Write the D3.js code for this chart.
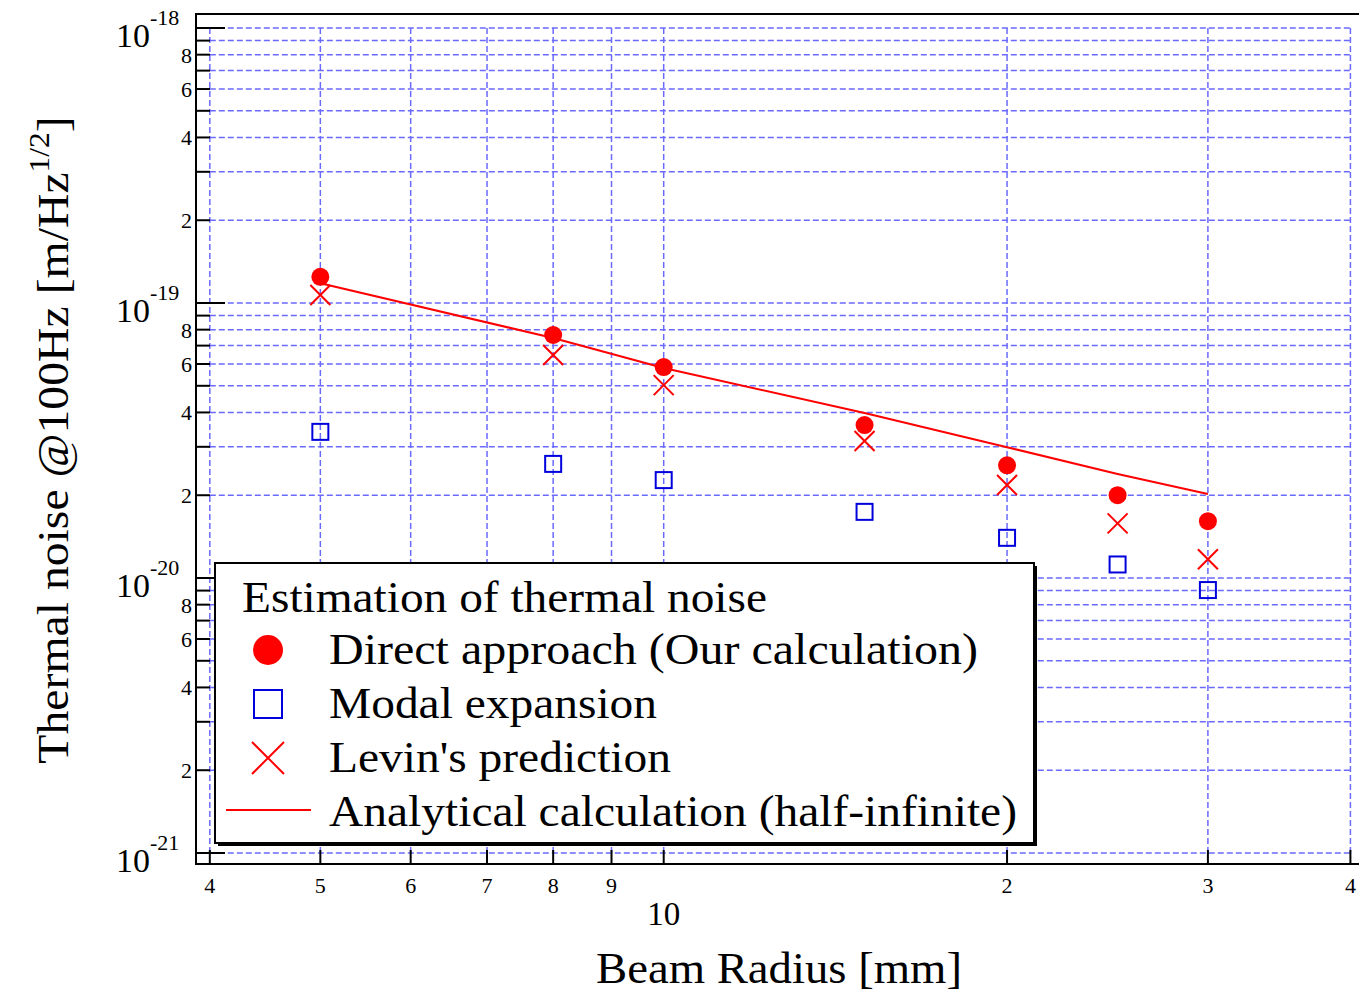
<!DOCTYPE html>
<html>
<head>
<meta charset="utf-8">
<script src="https://cdn.jsdelivr.net/npm/d3@7"></script>
<style>
  body { margin: 0; background: #fff; }
  text { font-family: "Liberation Serif", "DejaVu Serif", serif; fill: #000; }
</style>
</head>
<body>
<script>
// beam radius in mm
const radius = [5, 8, 10, 15, 20, 25, 30]
const direct = [1.245e-19, 7.65e-20, 5.85e-20, 3.6e-20, 2.57e-20, 2.0e-20, 1.61e-20]
const modal = [3.4e-20, 2.6e-20, 2.27e-20, 1.74e-20, 1.40e-20, 1.12e-20, 9.04e-21]
const levin = [1.07e-19, 6.47e-20, 5.03e-20, 3.15e-20, 2.18e-20, 1.58e-20, 1.17e-20]
const analytical = [1.18e-19, 7.46e-20, 5.8e-20, 3.98e-20, 2.99e-20, 2.39e-20, 2.02e-20]

const xTicks = [4, 5, 6, 7, 8, 9, 10, 20, 30, 40]
const xTickLabels = ["4", "5", "6", "7", "8", "9", "10", "2", "3", "4"]
const yMajor = [-21, -20, -19, -18]
const yMinorLabels = ["2", "4", "6", "8"]

const legendTitle = "Estimation of thermal noise"
const legendNames = ["Direct approach (Our calculation)", "Modal expansion", "Levin's prediction", "Analytical calculation (half-infinite)"]
const legendWidths = [649, 328, 342, 688]

let width = 1359
let height = 994

const svg = d3.select("body")
  .append("svg")
  .attr("width", width)
  .attr("height", height)

let x = d3.scaleLog()
  .domain([3.89, 40.7])
  .range([196, 1359])

let y = d3.scaleLog()
  .domain([10 ** -21.04, 10 ** -17.949])
  .range([864, 14])

// y tick values: every integer multiple in each decade
let yTicks = []
for (let e = -21; e < -18; e++) {
  for (let m = 1; m < 10; m++) yTicks.push(m * 10 ** e)
}
yTicks.push(1e-18)

const gridColor = "#6a6aff"

// grid
const grid = svg.append("g")
grid.selectAll(".hg")
  .data(yTicks)
  .join("line")
  .attr("x1", x(4)).attr("x2", x(40))
  .attr("y1", d => y(d)).attr("y2", d => y(d))
  .attr("stroke", gridColor)
  .attr("stroke-width", 1.5)
  .attr("stroke-dasharray", "6,3")
grid.selectAll(".vg")
  .data(xTicks)
  .join("line")
  .attr("x1", d => x(d)).attr("x2", d => x(d))
  .attr("y1", y(1e-18)).attr("y2", y(1e-21))
  .attr("stroke", gridColor)
  .attr("stroke-width", 1.5)
  .attr("stroke-dasharray", "6,3")

// frame
svg.append("path")
  .attr("d", `M${width},14H196V864H${width}`)
  .attr("fill", "none")
  .attr("stroke", "#000")
  .attr("stroke-width", 2)

// y ticks
svg.selectAll(".yt")
  .data(yTicks)
  .join("line")
  .attr("x1", 196)
  .attr("x2", d => Math.abs(Math.log10(d) - Math.round(Math.log10(d))) < 1e-6 ? 225 : 210)
  .attr("y1", d => y(d)).attr("y2", d => y(d))
  .attr("stroke", "#000")
  .attr("stroke-width", 2)

// y minor labels
yMajor.slice(0, 3).forEach(e => {
  yMinorLabels.forEach(l => {
    svg.append("text")
      .attr("x", 192)
      .attr("y", y(+l * 10 ** e) + 8)
      .attr("text-anchor", "end")
      .attr("font-size", 22)
      .text(l)
  })
})

// y major labels
yMajor.forEach(e => {
  svg.append("text")
    .attr("x", 150)
    .attr("y", y(10 ** e) + 19)
    .attr("text-anchor", "end")
    .attr("font-size", 34)
    .text("10")
  svg.append("text")
    .attr("x", 150)
    .attr("y", y(10 ** e) - 3)
    .attr("font-size", 22)
    .text(e)
})

// x ticks
svg.selectAll(".xt")
  .data(xTicks)
  .join("line")
  .attr("x1", d => x(d)).attr("x2", d => x(d))
  .attr("y1", 864).attr("y2", 850)
  .attr("stroke", "#000")
  .attr("stroke-width", 2)

svg.selectAll(".xl")
  .data(xTicks)
  .join("text")
  .attr("x", d => x(d))
  .attr("y", d => d === 10 ? 925 : 893)
  .attr("text-anchor", "middle")
  .attr("font-size", d => d === 10 ? 33 : 22)
  .text((d, i) => xTickLabels[i])

// axis titles
svg.append("text")
  .attr("x", 596)
  .attr("y", 983)
  .attr("font-size", 44)
  .attr("textLength", 366)
  .attr("lengthAdjust", "spacingAndGlyphs")
  .text("Beam Radius [mm]")

const yt = svg.append("text")
  .attr("transform", "translate(68,440) rotate(-90) scale(1.085,1)")
  .attr("text-anchor", "middle")
  .attr("font-size", 44)
yt.append("tspan").text("Thermal noise @100Hz [m/Hz")
yt.append("tspan").attr("font-size", 29).attr("dy", -19).text("1/2")
yt.append("tspan").attr("dy", 19).text("]")

// analytical line
const line = d3.line()
  .x((d, i) => x(radius[i]))
  .y(d => y(d))
svg.append("path")
  .datum(analytical)
  .attr("d", line)
  .attr("fill", "none")
  .attr("stroke", "#ff0000")
  .attr("stroke-width", 2)

// markers
function cross(g, cx, cy, s) {
  g.append("path")
    .attr("d", `M${cx - s},${cy - s}L${cx + s},${cy + s}M${cx - s},${cy + s}L${cx + s},${cy - s}`)
    .attr("stroke", "#ff0000")
    .attr("stroke-width", 2)
    .attr("fill", "none")
}

svg.append("g")
  .selectAll("rect")
  .data(modal)
  .join("rect")
  .attr("x", (d, i) => x(radius[i]) - 8)
  .attr("y", d => y(d) - 8)
  .attr("width", 16)
  .attr("height", 16)
  .attr("fill", "none")
  .attr("stroke", "#0000dd")
  .attr("stroke-width", 2)

const crosses = svg.append("g")
levin.forEach((d, i) => cross(crosses, x(radius[i]), y(d), 10))

svg.append("g")
  .selectAll("circle")
  .data(direct)
  .join("circle")
  .attr("cx", (d, i) => x(radius[i]))
  .attr("cy", d => y(d))
  .attr("r", 9)
  .attr("fill", "#ff0000")

// legend
const lg = svg.append("g")
lg.append("rect")
  .attr("x", 218).attr("y", 566)
  .attr("width", 819).attr("height", 280)
  .attr("fill", "#000")
lg.append("rect")
  .attr("x", 215).attr("y", 563)
  .attr("width", 819).attr("height", 280)
  .attr("fill", "#fff")
  .attr("stroke", "#000")
  .attr("stroke-width", 2)

lg.append("text")
  .attr("x", 242).attr("y", 612)
  .attr("font-size", 45)
  .attr("textLength", 525)
  .attr("lengthAdjust", "spacingAndGlyphs")
  .text(legendTitle)

const rowY = [650, 704, 758, 812]
legendNames.forEach((n, i) => {
  lg.append("text")
    .attr("x", 329).attr("y", rowY[i] + 14)
    .attr("font-size", 45)
    .attr("textLength", legendWidths[i])
    .attr("lengthAdjust", "spacingAndGlyphs")
    .text(n)
})
lg.append("circle").attr("cx", 268).attr("cy", rowY[0]).attr("r", 15).attr("fill", "#ff0000")
lg.append("rect")
  .attr("x", 254).attr("y", rowY[1] - 14)
  .attr("width", 28).attr("height", 28)
  .attr("fill", "none").attr("stroke", "#0000dd").attr("stroke-width", 2)
cross(lg, 268, rowY[2], 16)
lg.append("line")
  .attr("x1", 226).attr("x2", 311)
  .attr("y1", rowY[3] - 2).attr("y2", rowY[3] - 2)
  .attr("stroke", "#ff0000").attr("stroke-width", 2)
</script>
</body>
</html>
